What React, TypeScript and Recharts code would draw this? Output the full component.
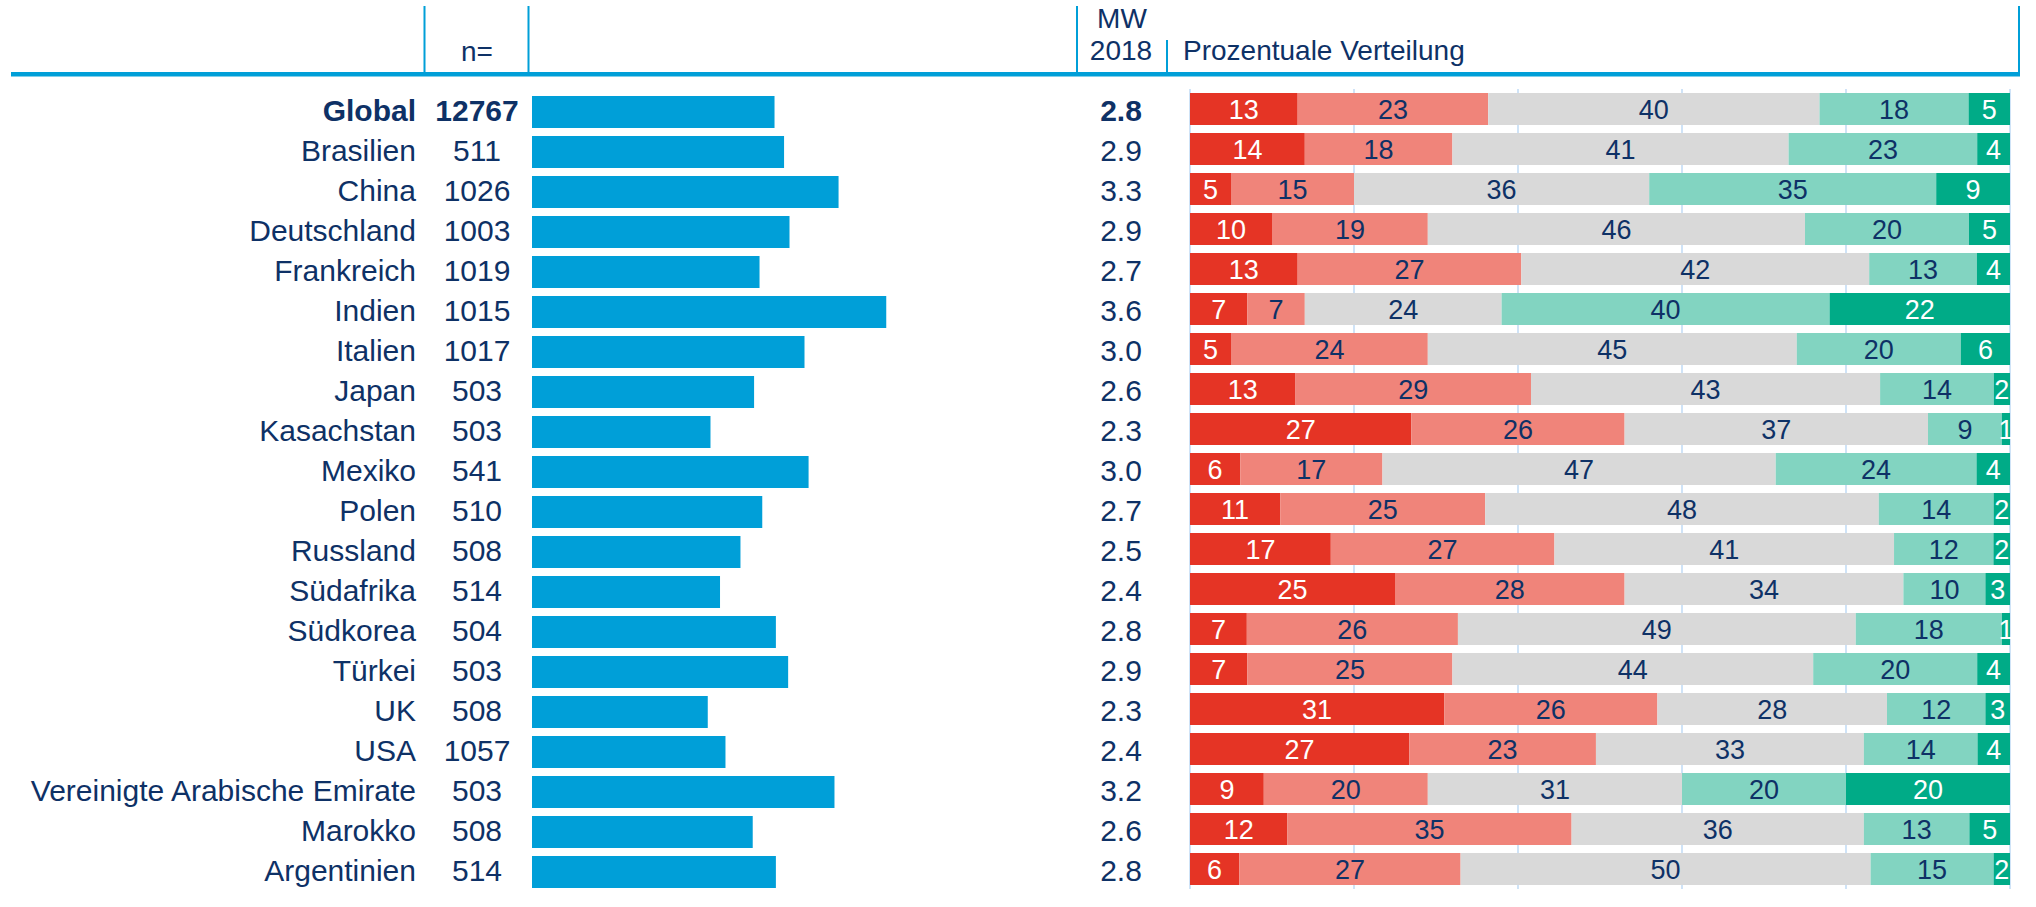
import { BarChart, Bar, XAxis, YAxis, CartesianGrid, LabelList } from 'recharts';

const countries = [
  'Global', 'Brasilien', 'China', 'Deutschland', 'Frankreich', 'Indien', 'Italien',
  'Japan', 'Kasachstan', 'Mexiko', 'Polen', 'Russland', 'Südafrika', 'Südkorea',
  'Türkei', 'UK', 'USA', 'Vereinigte Arabische Emirate', 'Marokko', 'Argentinien',
];
const sampleSizes = [
  '12767', '511', '1026', '1003', '1019', '1015', '1017', '503', '503', '541',
  '510', '508', '514', '504', '503', '508', '1057', '503', '508', '514',
];
const meanLabels = [
  '2.8', '2.9', '3.3', '2.9', '2.7', '3.6', '3.0', '2.6', '2.3', '3.0',
  '2.7', '2.5', '2.4', '2.8', '2.9', '2.3', '2.4', '3.2', '2.6', '2.8',
];
// bar lengths (scale 1..5)
const meanBars = [
  2.78, 2.85, 3.25, 2.89, 2.67, 3.6, 3.0, 2.63, 2.31, 3.03,
  2.69, 2.53, 2.38, 2.79, 2.88, 2.29, 2.42, 3.22, 2.62, 2.79,
];
const share1 = [13, 14, 5, 10, 13, 7, 5, 13, 27, 6, 11, 17, 25, 7, 7, 31, 27, 9, 12, 6];
const share2 = [23, 18, 15, 19, 27, 7, 24, 29, 26, 17, 25, 27, 28, 26, 25, 26, 23, 20, 35, 27];
const share3 = [40, 41, 36, 46, 42, 24, 45, 43, 37, 47, 48, 41, 34, 49, 44, 28, 33, 31, 36, 50];
const share4 = [18, 23, 35, 20, 13, 40, 20, 14, 9, 24, 14, 12, 10, 18, 20, 12, 14, 20, 13, 15];
const share5 = [5, 4, 9, 5, 4, 22, 6, 2, 1, 4, 2, 2, 3, 1, 4, 3, 4, 20, 5, 2];
const pctTicks = [0, 0.2, 0.4, 0.6, 0.8, 1];

const rows = countries.map((name, i) => ({
  name,
  mean: meanBars[i],
  s1: share1[i],
  s2: share2[i],
  s3: share3[i],
  s4: share4[i],
  s5: share5[i],
}));

const FONT = '"Liberation Sans", Arial, sans-serif';
const NAVY = '#0e3166';
const BLUE = '#009fd8';
const GRID = '#cfe3f7';

const NAME_RIGHT = 416;
const N_CENTER = 477;
const MW_CENTER = 1121;

function NameTick(props: any) {
  const { y, payload } = props;
  const i = countries.indexOf(payload.value);
  const weight = i === 0 ? 'bold' : 'normal';
  return (
    <g fontFamily={FONT} fontSize={30} fill={NAVY} fontWeight={weight}>
      <text x={NAME_RIGHT} y={y + 9} textAnchor='end'>{payload.value}</text>
      <text x={N_CENTER} y={y + 9} textAnchor='middle'>{sampleSizes[i]}</text>
    </g>
  );
}

function boxOf(props: any) {
  const vb = props.viewBox ?? {};
  return {
    x: Number(props.x ?? vb.x),
    y: Number(props.y ?? vb.y),
    width: Number(props.width ?? vb.width),
    height: Number(props.height ?? vb.height),
  };
}

function MeanLabel(props: any) {
  const { y, height } = boxOf(props);
  const i = props.index ?? 0;
  return (
    <text
      x={MW_CENTER}
      y={y + height / 2 + 9}
      textAnchor='middle'
      fontFamily={FONT}
      fontSize={30}
      fontWeight={i === 0 ? 'bold' : 'normal'}
      fill={NAVY}
    >
      {meanLabels[i]}
    </text>
  );
}

const segLabel = (key: string, color: string) => (props: any) => {
  const { x, y, width, height } = boxOf(props);
  const v = props.index != null ? (rows[props.index] as any)[key] : props.value;
  return (
    <text
      x={x + width / 2}
      y={y + height / 2 + 9.5}
      textAnchor='middle'
      fontFamily={FONT}
      fontSize={27}
      fill={color}
    >
      {v}
    </text>
  );
};

const segments = [
  { key: 's1', fill: '#e53425', text: '#ffffff' },
  { key: 's2', fill: '#f0847a', text: NAVY },
  { key: 's3', fill: '#d9d9d9', text: NAVY },
  { key: 's4', fill: '#82d4c1', text: NAVY },
  { key: 's5', fill: '#00ab87', text: '#ffffff' },
];

function Header() {
  return (
    <svg width={2036} height={80} style={{ position: 'absolute', left: 0, top: 0 }}>
      <rect x={11} y={72} width={2009} height={4.5} fill={BLUE} />
      <rect x={423.5} y={6} width={2} height={67} fill={BLUE} />
      <rect x={527.5} y={6} width={2} height={67} fill={BLUE} />
      <rect x={1076} y={6} width={2} height={67} fill={BLUE} />
      <rect x={1166} y={40} width={2} height={33} fill={BLUE} />
      <rect x={2018} y={6} width={2} height={67} fill={BLUE} />
      <g fontFamily={FONT} fontSize={28} fill={NAVY}>
        <text x={N_CENTER} y={61} textAnchor='middle'>n=</text>
        <text x={1122} y={28} textAnchor='middle'>MW</text>
        <text x={1121} y={60} textAnchor='middle'>2018</text>
        <text x={1183} y={60}>Prozentuale Verteilung</text>
      </g>
    </svg>
  );
}

export default function App() {
  return (
    <div style={{ position: 'relative', width: 2036, height: 907, background: '#fff' }}>
      <style>{'body{margin:0}'}</style>
      <Header />
      <div style={{ position: 'absolute', left: 0, top: 0 }}>
        <BarChart
          width={1191}
          height={907}
          data={rows}
          layout='vertical'
          barCategoryGap={0}
          margin={{ top: 92, bottom: 15, left: 0, right: 114 }}
        >
          <XAxis type='number' domain={[1, 5]} hide allowDataOverflow />
          <YAxis
            type='category'
            dataKey='name'
            width={532}
            axisLine={false}
            tickLine={false}
            interval={0}
            tick={<NameTick />}
          />
          <Bar dataKey='mean' fill={BLUE} barSize={32} isAnimationActive={false}>
            <LabelList dataKey='mean' content={<MeanLabel />} />
          </Bar>
        </BarChart>
      </div>
      <div style={{ position: 'absolute', left: 1188, top: 0 }}>
        <BarChart
          width={824}
          height={907}
          data={rows}
          layout='vertical'
          stackOffset='expand'
          margin={{ top: 89, bottom: 18, left: 2, right: 2 }}
        >
          <CartesianGrid vertical horizontal={false} stroke={GRID} strokeWidth={2} />
          <XAxis type='number' domain={[0, 1]} ticks={pctTicks} hide />
          <YAxis type='category' dataKey='name' hide />
          {segments.map((s) => (
            <Bar
              key={s.key}
              dataKey={s.key}
              stackId='a'
              fill={s.fill}
              barSize={32}
              isAnimationActive={false}
            >
              <LabelList dataKey={s.key} content={segLabel(s.key, s.text)} />
            </Bar>
          ))}
        </BarChart>
      </div>
    </div>
  );
}
